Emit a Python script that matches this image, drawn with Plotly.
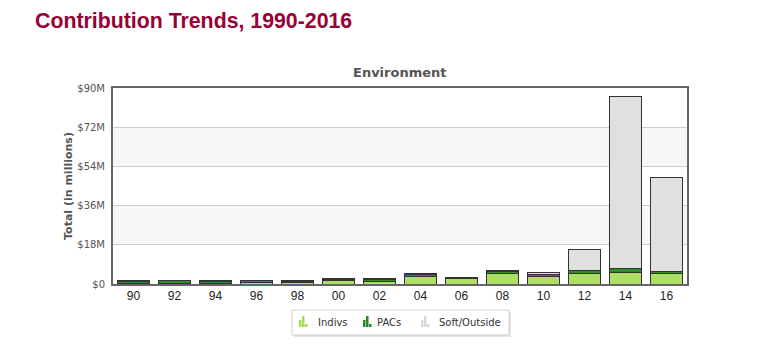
import plotly.graph_objects as go

cycles = ["90", "92", "94", "96", "98", "00", "02", "04", "06", "08", "10", "12", "14", "16"]
indivs = [0.3, 0.3, 0.3, 0.6, 0.5, 1.5, 1.1, 3.4, 2.4, 4.9, 3.5, 4.9, 5.2, 4.9]
pacs = [1.0, 1.2, 0.7, 0.8, 0.6, 0.5, 0.8, 1.0, 0.5, 0.7, 0.9, 1.4, 2.0, 0.9]
soft = [0.2, 0.3, 0.8, 0.4, 0.3, 0.3, 0.4, 0.3, 0.3, 0.4, 1.0, 9.6, 78.7, 43.2]
tick_vals = [0, 18, 36, 54, 72, 90]
tick_text = ["$0", "$18M", "$36M", "$54M", "$72M", "$90M"]
series_names = ["Indivs", "PACs", "Soft/Outside"]
series_colors = ["#aedf62", "#2a8f2a", "#e0e0e0"]
icon_colors = ["#a6dc55", "#24882a", "#d8d8d8"]

# plot area in page pixels (for decoration placement)
PL, PW, PB, PH = 113, 574, 284, 196
def px(x):
    return (x - PL) / PW
def py(y):
    return (PB - y) / PH

edge = dict(color="#333333", width=1)
fig = go.Figure()
for name, vals, col in zip(series_names, [indivs, pacs, soft], series_colors):
    fig.add_trace(go.Bar(name=name, x=cycles, y=vals, marker=dict(color=col, line=edge),
                         showlegend=False))

shapes = []
for i in range(1, len(tick_vals) - 1, 2):
    shapes.append(dict(type="rect", xref="paper", yref="y", x0=0, x1=1,
                       y0=tick_vals[i], y1=tick_vals[i + 1],
                       fillcolor="#f7f7f7", line=dict(width=0), layer="below"))

# custom legend box with shadow
shapes.append(dict(type="rect", xref="paper", yref="paper", x0=px(294), x1=px(511),
                   y0=py(337), y1=py(312), fillcolor="#e4e4e4", line=dict(width=0)))
shapes.append(dict(type="rect", xref="paper", yref="paper", x0=px(292), x1=px(509),
                   y0=py(335), y1=py(310), fillcolor="white",
                   line=dict(color="#d0d0d0", width=1)))
annotations = [dict(text="<b>Environment</b>", xref="paper", yref="paper", x=0.5, y=1,
                    yshift=16, yanchor="middle", showarrow=False,
                    font=dict(family="DejaVu Sans", size=13, color="#555555"))]
icon_x = [299, 363, 421]
text_x = [316, 375, 437]
bar_tops = [320, 316, 324]
for name, col, ix, tx in zip(series_names, icon_colors, icon_x, text_x):
    for k, top in enumerate(bar_tops):
        shapes.append(dict(type="rect", xref="paper", yref="paper",
                           x0=px(ix + 3 * k), x1=px(ix + 3 * k + 2.5),
                           y0=py(327), y1=py(top), fillcolor=col, line=dict(width=0)))
    annotations.append(dict(text=name, xref="paper", yref="paper", x=px(tx), y=py(322),
                            xanchor="left", yanchor="middle", showarrow=False,
                            font=dict(family="DejaVu Sans", size=10, color="#333333")))

fig.update_layout(
    width=768, height=362,
    margin=dict(l=105, r=89, t=80, b=86),
    barmode="stack", bargap=0.22,
    paper_bgcolor="white", plot_bgcolor="white",
    shapes=shapes, annotations=annotations, showlegend=False,
    title=dict(text="<b>Contribution Trends, 1990-2016</b>", x=27 / 768, xanchor="left",
               y=1 - 13 / 362, yanchor="middle",
               font=dict(family="Liberation Sans, Arial", size=21.3, color="#990033")),
    xaxis=dict(type="category", range=[-0.5, 13.5], showline=True, mirror=True,
               linecolor="#666666", linewidth=2, ticks="", showgrid=False,
               tickfont=dict(family="Liberation Sans, Arial", size=12, color="#222222")),
    yaxis=dict(range=[0, 90], tickvals=tick_vals, ticktext=tick_text, showline=True,
               mirror=True, linecolor="#666666", linewidth=2, gridcolor="#cccccc",
               gridwidth=1, zeroline=False, ticks="outside", ticklen=4, tickcolor="rgba(0,0,0,0)",
               tickfont=dict(family="DejaVu Sans", size=10, color="#555555"),
               title=dict(text="<b>Total (in millions)</b>", standoff=2,
                          font=dict(family="DejaVu Sans", size=11, color="#555555"))),
)
fig.write_html("out.html")
